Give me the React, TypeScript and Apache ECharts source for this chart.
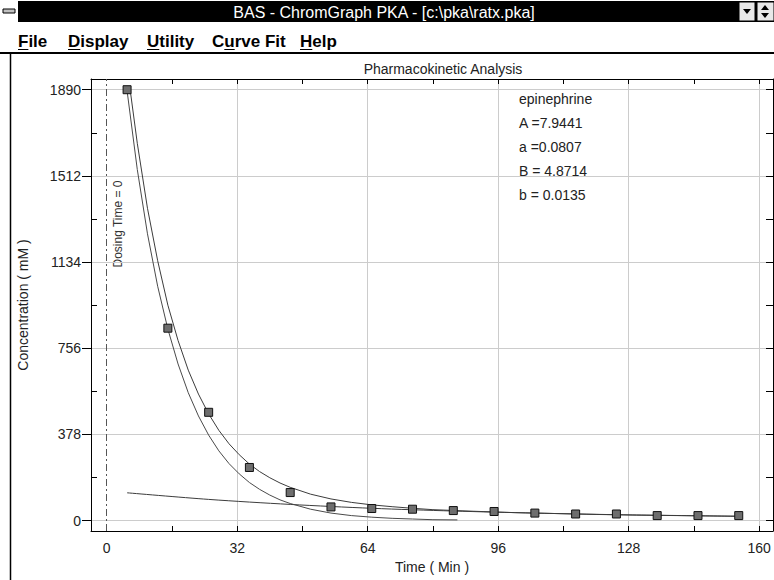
import React, { useEffect, useRef } from "react";
import * as echarts from "echarts";

// ---- texts ----
const windowTitle = "BAS - ChromGraph PKA - [c:\\pka\\ratx.pka]";
const menuItems = ["File", "Display", "Utility", "Curve Fit", "Help"];
const chartTitle = "Pharmacokinetic Analysis";
const xAxisName = "Time ( Min )";
const yAxisName = "Concentration ( mM )";
const dosingLabel = "Dosing Time = 0";
const annotationLines = ["epinephrine", "A =7.9441", "a =0.0807", "B = 4.8714", "b = 0.0135"];

// ---- axes ----
const xLabelTicks = [0, 32, 64, 96, 128, 160];
const xGridTicks = [32, 64, 96, 128, 160];
const xMinorTicks = [16, 48, 80, 112, 144];
const xTopTicks = [16, 32, 48, 64, 80, 96, 112, 128, 144, 160];
const yMajorTicks = [0, 378, 756, 1134, 1512, 1890];
const yMinorTicks = [189, 567, 945, 1323, 1701];
const yRightTicks = [0, 189, 378, 567, 756, 945, 1134, 1323, 1512, 1701, 1890];
const xMin = -3.85;
const xMax = 163.4;
const yMin = -45.6;
const yMax = 1937;
const dosingTime = 0;

// ---- observed samples ----
const obsTime = [5, 15, 25, 35, 45, 55, 65, 75, 85, 95, 105, 115, 125, 135, 145, 155];
const obsConc = [1890, 844, 475, 233, 123, 60, 53, 50, 44, 40, 33, 29, 29, 22, 22, 22];

// ---- fitted curve (total) ----
const fitTime = [5.75, 7.5, 10, 12.5, 15, 17.5, 20, 22.5, 25, 27.5, 30, 32.5, 35, 37.5, 40, 42.5, 45, 50, 55, 60, 65, 70, 75, 80, 90, 100, 110, 120, 130, 140, 155];
const fitConc = [1890, 1655, 1370, 1140, 945, 790, 660, 555, 468, 396, 337, 289, 248, 215, 188, 165, 146, 116, 95, 80, 69, 61, 54, 48, 41, 35, 31, 27, 24, 22, 19];

// ---- fast (alpha) phase curve ----
const alphaTime = [5, 7.5, 10, 12.5, 15, 17.5, 20, 22.5, 25, 27.5, 30, 32.5, 35, 37.5, 40, 42.5, 45, 50, 55, 60, 65, 70, 75, 80, 86];
const alphaConc = [1885, 1540, 1258, 1028, 840, 687, 561, 459, 375, 306, 250, 205, 167, 137, 112, 91, 75, 50, 33, 22, 15, 10, 7, 4, 3];

// ---- slow (beta) phase line ----
const betaTime = [5, 25, 45, 65, 85, 105, 125, 155];
const betaConc = [122, 93, 71, 54, 42, 33, 26, 19];

const FONT = "'Liberation Sans', Arial, Helvetica, sans-serif";

function pairs(xs: number[], ys: number[]) {
  return xs.map((x, i) => [x, ys[i]]);
}

export default function App() {
  const ref = useRef<HTMLDivElement>(null);

  useEffect(() => {
    if (!ref.current) return;
    const chart = echarts.init(ref.current, undefined, { renderer: "svg" });

    const menuX = [18, 68, 147, 212, 300];
    const underline = [
      [0, 10.4],
      [0, 12.3],
      [0, 12.3],
      [12.3, 10.4],
      [0, 12.3],
    ];

    const graphic: any[] = [
      // title bar
      { type: "rect", shape: { x: 0, y: 1, width: 774, height: 21 }, style: { fill: "#000" }, silent: true },
      // control box
      { type: "rect", shape: { x: 0, y: 1, width: 18, height: 21 }, style: { fill: "#fff" } },
      { type: "rect", shape: { x: 3, y: 9, width: 12, height: 4 }, style: { fill: "#c0c0c0", stroke: "#000", lineWidth: 1 } },
      {
        type: "text",
        x: 384,
        y: 12,
        style: { text: windowTitle, fill: "#fff", font: `16px ${FONT}`, align: "center", verticalAlign: "middle" },
      },
      // buttons
      { type: "rect", shape: { x: 739, y: 2, width: 16, height: 19 }, style: { fill: "#e8e8e8", stroke: "#000", lineWidth: 1 } },
      { type: "polygon", shape: { points: [[743, 9], [751, 9], [747, 14]] }, style: { fill: "#000" } },
      { type: "rect", shape: { x: 757, y: 2, width: 17, height: 19 }, style: { fill: "#e8e8e8", stroke: "#000", lineWidth: 1 } },
      { type: "polygon", shape: { points: [[761, 10], [769, 10], [765, 5]] }, style: { fill: "#000" } },
      { type: "polygon", shape: { points: [[761, 13], [769, 13], [765, 18]] }, style: { fill: "#000" } },
      // menu separator and child window border
      { type: "line", shape: { x1: 0, y1: 53, x2: 774, y2: 53 }, style: { stroke: "#000", lineWidth: 2 } },
      { type: "line", shape: { x1: 10.5, y1: 54, x2: 10.5, y2: 580 }, style: { stroke: "#000", lineWidth: 1.5 } },
      // dosing label
      {
        type: "text",
        x: 118,
        y: 224,
        rotation: Math.PI / 2,
        style: { text: dosingLabel, fill: "#333", font: `12px ${FONT}`, align: "center", verticalAlign: "middle" },
      },
    ];

    menuItems.forEach((m, i) => {
      graphic.push({
        type: "text",
        x: menuX[i],
        y: 41,
        style: { text: m, fill: "#000", font: `bold 17px ${FONT}`, align: "left", verticalAlign: "middle" },
      });
      graphic.push({
        type: "line",
        shape: { x1: menuX[i] + underline[i][0], y1: 49.5, x2: menuX[i] + underline[i][0] + underline[i][1], y2: 49.5 },
        style: { stroke: "#000", lineWidth: 1 },
      });
    });

    annotationLines.forEach((t, i) => {
      graphic.push({
        type: "text",
        x: 519,
        y: 99 + i * 24,
        style: { text: t, fill: "#222", font: `14px ${FONT}`, align: "left", verticalAlign: "middle" },
      });
    });

    const lineColor = "#3c3c3c";
    const axisBlack = { lineStyle: { color: "#000", width: 1 } };
    const plainNumber = (v: number) => String(v);

    const option: any = {
      animation: false,
      backgroundColor: "#fff",
      title: {
        text: chartTitle,
        left: 438,
        top: 57,
        textAlign: "center",
        textStyle: { fontFamily: FONT, fontSize: 14, fontWeight: "normal", color: "#222" },
      },
      grid: { left: 91, right: 1, top: 79, bottom: 49, containLabel: false, outerBoundsMode: "none" },
      xAxis: [
        {
          type: "value",
          position: "bottom",
          min: xMin,
          max: xMax,
          name: xAxisName,
          nameLocation: "middle",
          nameGap: 15,
          nameTextStyle: { fontFamily: FONT, fontSize: 14, color: "#222" },
          axisLine: { show: true, onZero: false, ...axisBlack },
          axisTick: { show: true, inside: true, length: 5, customValues: xGridTicks, lineStyle: { color: "#000" } },
          axisLabel: { customValues: xLabelTicks, formatter: plainNumber, margin: 10, fontFamily: FONT, fontSize: 14, color: "#222" },
          splitLine: { show: true, lineStyle: { color: "#cccccc", width: 1 } },
        },
        {
          type: "value",
          position: "bottom",
          min: xMin,
          max: xMax,
          axisLine: { show: false, onZero: false },
          axisTick: { show: true, inside: true, length: 5, customValues: xMinorTicks, lineStyle: { color: "#000" } },
          axisLabel: { show: false },
          splitLine: { show: false },
        },
        {
          type: "value",
          position: "top",
          min: xMin,
          max: xMax,
          axisLine: { show: true, onZero: false, ...axisBlack },
          axisTick: { show: true, inside: true, length: 5, customValues: xTopTicks, lineStyle: { color: "#000" } },
          axisLabel: { show: false },
          splitLine: { show: false },
        },
      ],
      yAxis: [
        {
          type: "value",
          position: "left",
          min: yMin,
          max: yMax,
          name: yAxisName,
          nameLocation: "middle",
          nameGap: 61,
          nameRotate: 90,
          nameTextStyle: { fontFamily: FONT, fontSize: 14, color: "#222" },
          axisLine: { show: true, onZero: false, ...axisBlack },
          axisTick: { show: true, inside: false, length: 9, customValues: yMajorTicks, lineStyle: { color: "#000" } },
          axisLabel: { customValues: yMajorTicks, formatter: plainNumber, margin: 10, fontFamily: FONT, fontSize: 14, color: "#222" },
          splitLine: { show: true, lineStyle: { color: "#cccccc", width: 1 } },
        },
        {
          type: "value",
          position: "left",
          min: yMin,
          max: yMax,
          axisLine: { show: false, onZero: false },
          axisTick: { show: true, inside: true, length: 6, customValues: yMinorTicks, lineStyle: { color: "#000" } },
          axisLabel: { show: false },
          splitLine: { show: false },
        },
        {
          type: "value",
          position: "right",
          min: yMin,
          max: yMax,
          axisLine: { show: true, onZero: false, ...axisBlack },
          axisTick: { show: true, inside: true, length: 7, customValues: yRightTicks, lineStyle: { color: "#000" } },
          axisLabel: { show: false },
          splitLine: { show: false },
        },
      ],
      series: [
        {
          type: "line",
          name: "beta",
          data: pairs(betaTime, betaConc),
          smooth: 0.3,
          showSymbol: false,
          lineStyle: { color: lineColor, width: 1 },
          markLine: {
            silent: true,
            symbol: "none",
            label: { show: false },
            lineStyle: { color: "#555", width: 1, type: [7, 3, 2, 3] },
            data: [{ xAxis: dosingTime }],
          },
        },
        {
          type: "line",
          name: "alpha",
          data: pairs(alphaTime, alphaConc),
          smooth: false,
          showSymbol: false,
          lineStyle: { color: "#4a4a4a", width: 1 },
        },
        {
          type: "line",
          name: "fit",
          data: pairs(fitTime, fitConc),
          smooth: false,
          showSymbol: false,
          lineStyle: { color: lineColor, width: 1 },
        },
        {
          type: "scatter",
          name: "observed",
          data: pairs(obsTime, obsConc),
          symbol: "rect",
          symbolSize: 8,
          itemStyle: { color: "#6e6e6e", borderColor: "#111", borderWidth: 1, opacity: 1 },
          z: 5,
        },
      ],
      graphic,
    };

    chart.setOption(option);
    return () => chart.dispose();
  }, []);

  return (
    <div
      ref={ref}
      style={{ position: "fixed", left: 0, top: 0, width: 774, height: 580, background: "#fff" }}
    />
  );
}
